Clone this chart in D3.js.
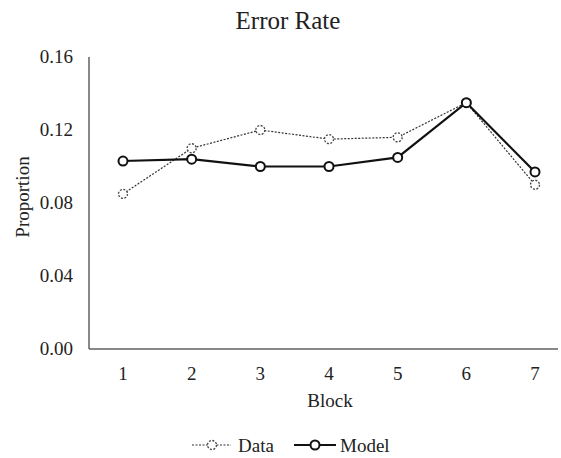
<!DOCTYPE html>
<html><head><meta charset="utf-8">
<script src="https://cdn.jsdelivr.net/npm/d3@7"></script>
<style>body{margin:0;background:#fff}text{font-family:"Liberation Serif","Times New Roman",serif;fill:#222}</style>
</head><body><svg id="c" width="561" height="458"></svg>
<script>
const blocks = [1,2,3,4,5,6,7];
const dataVals = [0.085,0.110,0.120,0.115,0.116,0.135,0.090];
const modelVals = [0.103,0.104,0.100,0.100,0.105,0.135,0.097];
const yTicks = [0,0.04,0.08,0.12,0.16];

const svg = d3.select("#c");
const L=89, R=558, T=57, B=349;
const x = d3.scaleLinear().domain([1,7]).range([123,535]);
const y = d3.scaleLinear().domain([0,0.16]).range([B,T]);

svg.append("text").attr("x",288).attr("y",29).attr("text-anchor","middle").attr("font-size",25).text("Error Rate");

const axc="#606060";
svg.append("line").attr("x1",L).attr("x2",L).attr("y1",T).attr("y2",B).attr("stroke",axc).attr("stroke-width",1.5);
svg.append("line").attr("x1",L).attr("x2",R).attr("y1",B).attr("y2",B).attr("stroke",axc).attr("stroke-width",1.5);

svg.selectAll(".yt").data(yTicks).join("text").attr("x",73).attr("y",d=>y(d)+6).attr("text-anchor","end").attr("font-size",19).text(d=>d3.format(".2f")(d));
svg.selectAll(".xt").data(blocks).join("text").attr("x",d=>x(d)).attr("y",380).attr("text-anchor","middle").attr("font-size",19).text(d=>d);

svg.append("text").attr("x",330).attr("y",407).attr("text-anchor","middle").attr("font-size",19).text("Block");
svg.append("text").attr("transform","translate(29,197) rotate(-90)").attr("text-anchor","middle").attr("font-size",19).text("Proportion");

const line = d3.line().x((d,i)=>x(blocks[i])).y(d=>y(d));
svg.append("path").datum(dataVals).attr("d",line).attr("fill","none").attr("stroke","#333").attr("stroke-width",1.2).attr("stroke-dasharray","2,1.5");
svg.append("path").datum(modelVals).attr("d",line).attr("fill","none").attr("stroke","#111").attr("stroke-width",2.2);

svg.selectAll(".dp").data(dataVals).join("circle").attr("cx",(d,i)=>x(blocks[i])).attr("cy",d=>y(d)).attr("r",4.5).attr("fill","#fff").attr("stroke","#444").attr("stroke-width",1.3).attr("stroke-dasharray","2,1.5");
svg.selectAll(".mp").data(modelVals).join("circle").attr("cx",(d,i)=>x(blocks[i])).attr("cy",d=>y(d)).attr("r",4.5).attr("fill","#fff").attr("stroke","#111").attr("stroke-width",2);

const ly=445;
svg.append("line").attr("x1",192).attr("x2",231).attr("y1",ly).attr("y2",ly).attr("stroke","#333").attr("stroke-width",1.2).attr("stroke-dasharray","2,1.5");
svg.append("circle").attr("cx",212).attr("cy",ly).attr("r",4.5).attr("fill","#fff").attr("stroke","#444").attr("stroke-width",1.3).attr("stroke-dasharray","2,1.5");
svg.append("text").attr("x",238).attr("y",ly+7).attr("font-size",19).text("Data");
svg.append("line").attr("x1",294).attr("x2",336).attr("y1",ly).attr("y2",ly).attr("stroke","#111").attr("stroke-width",2.2);
svg.append("circle").attr("cx",315).attr("cy",ly).attr("r",4.5).attr("fill","#fff").attr("stroke","#111").attr("stroke-width",2);
svg.append("text").attr("x",340).attr("y",ly+7).attr("font-size",19).text("Model");
</script></body></html>
